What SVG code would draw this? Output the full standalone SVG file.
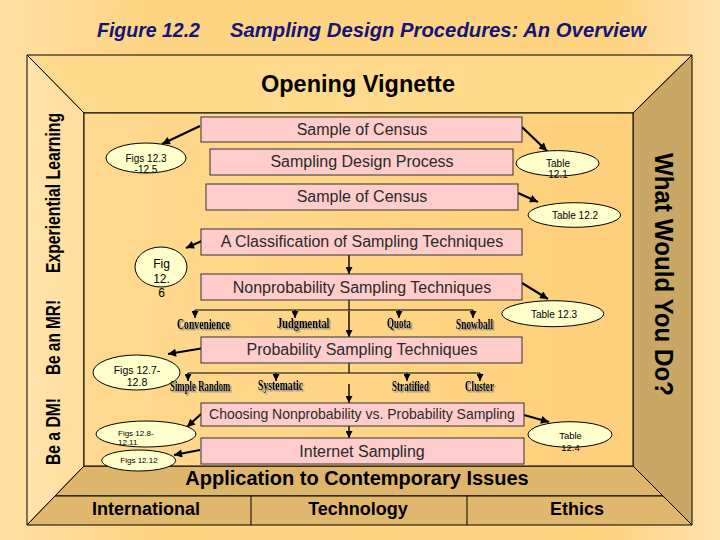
<svg xmlns="http://www.w3.org/2000/svg" width="720" height="540" viewBox="0 0 720 540">
<defs>
<linearGradient id="bg" x1="0" y1="0" x2="1" y2="0">
<stop offset="0" stop-color="#FFE0A4"/><stop offset="0.2" stop-color="#FDD482"/><stop offset="0.85" stop-color="#FDD380"/><stop offset="1" stop-color="#FFE2AE"/>
</linearGradient>
<linearGradient id="lp" x1="0" y1="0" x2="1" y2="0">
<stop offset="0" stop-color="#FFE4AC"/><stop offset="1" stop-color="#FFDD9C"/>
</linearGradient>
<linearGradient id="inner" x1="0" y1="0" x2="1" y2="0">
<stop offset="0" stop-color="#FFD98F"/><stop offset="1" stop-color="#FFD07C"/>
</linearGradient>
<marker id="ah" viewBox="0 0 10 10" refX="10" refY="5" markerWidth="9" markerHeight="8" markerUnits="userSpaceOnUse" orient="auto">
<path d="M0,0 L10,5 L0,10 z" fill="#000"/>
</marker>
<marker id="as" viewBox="0 0 10 10" refX="10" refY="5" markerWidth="7" markerHeight="7" markerUnits="userSpaceOnUse" orient="auto">
<path d="M0,0 L10,5 L0,10 z" fill="#000"/>
</marker>
<filter id="sh" x="-10%" y="-30%" width="130%" height="170%">
<feDropShadow dx="1.5" dy="1.5" stdDeviation="0.4" flood-color="#7a7a7a" flood-opacity="0.9"/>
</filter>
</defs>
<style>
.fr{stroke:#000;stroke-width:1;}
.box{fill:#FFCCCC;stroke:#333;stroke-width:1;}
.bt{font-family:"Liberation Sans",Arial,sans-serif;fill:#2a2a2a;text-anchor:middle;}
.el{fill:#FFFFCC;stroke:#000;stroke-width:1;}
.et{font-family:"Liberation Sans",Arial,sans-serif;fill:#000;text-anchor:middle;}
.lab{font-family:"Liberation Serif","Times New Roman",serif;font-weight:bold;font-size:14px;fill:#000;}
.ln{stroke:#000;stroke-width:1.2;fill:none;}
.ta{stroke:#000;stroke-width:1.4;fill:none;marker-end:url(#as);}
.ar{stroke:#000;stroke-width:2.2;fill:none;marker-end:url(#ah);}
.side{font-family:"Liberation Sans",Arial,sans-serif;font-weight:bold;fill:#000;}
.title{font-family:"Liberation Sans",Arial,sans-serif;font-weight:bold;font-style:italic;font-size:19.5px;fill:#14147A;}
</style>
<rect x="0" y="0" width="720" height="540" fill="url(#bg)"/>
<g id="title">
<text class="title" x="97" y="37">Figure 12.2</text>
<text class="title" x="230" y="37" textLength="416" lengthAdjust="spacingAndGlyphs">Sampling Design Procedures:  An Overview</text>
</g>
<g id="frame">
<polygon class="fr" points="27,55 692,55 633,113 84,113" fill="#FFD98C"/>
<polygon class="fr" points="27,55 84,113 84,466 27,525" fill="url(#lp)"/>
<polygon class="fr" points="692,55 633,113 633,466 692,525" fill="#C9A765"/>
<polygon class="fr" points="84,466 633,466 663,496 55,496" fill="#DDB66C"/>
<polygon class="fr" points="55,496 663,496 692,525 27,525" fill="#E0B86D"/>
<rect class="fr" x="84" y="113" width="549" height="353" fill="url(#inner)"/>
<line class="fr" x1="251" y1="496" x2="251" y2="525"/>
<line class="fr" x1="467" y1="496" x2="467" y2="525"/>
</g>
<g id="frame-labels">
<text class="side" x="358" y="92" font-size="23.5" text-anchor="middle" textLength="194" lengthAdjust="spacingAndGlyphs">Opening Vignette</text>
<text class="side" font-size="20" transform="translate(60,273) rotate(-90)" textLength="160" lengthAdjust="spacingAndGlyphs">Experiential  Learning</text>
<text class="side" font-size="20" transform="translate(60,375) rotate(-90)" textLength="75" lengthAdjust="spacingAndGlyphs">Be an MR!</text>
<text class="side" font-size="20" transform="translate(60,465) rotate(-90)" textLength="67" lengthAdjust="spacingAndGlyphs">Be a DM!</text>
<text class="side" font-size="25" transform="translate(655,153) rotate(90)" textLength="243" lengthAdjust="spacingAndGlyphs">What Would You Do?</text>
<text class="side" x="357" y="485" font-size="20" text-anchor="middle">Application to Contemporary Issues</text>
<text class="side" x="146" y="515" font-size="18" text-anchor="middle">International</text>
<text class="side" x="358" y="515" font-size="18" text-anchor="middle">Technology</text>
<text class="side" x="577" y="515" font-size="18" text-anchor="middle">Ethics</text>
</g>
<g id="connectors">
<line class="ta" x1="349" y1="255" x2="349" y2="274"/>
<polyline class="ln" points="349,300 349,310"/>
<line class="ln" x1="195" y1="310" x2="473" y2="310"/>
<line class="ta" x1="195" y1="310" x2="195" y2="318"/>
<line class="ta" x1="295" y1="310" x2="295" y2="318"/>
<line class="ta" x1="399" y1="310" x2="399" y2="318"/>
<line class="ta" x1="473" y1="310" x2="473" y2="318"/>
<line class="ta" x1="349" y1="311" x2="349" y2="337"/>
<polyline class="ln" points="349,363 349,373"/>
<line class="ln" x1="188" y1="373" x2="480" y2="373"/>
<line class="ta" x1="188" y1="373" x2="188" y2="381"/>
<line class="ta" x1="276" y1="373" x2="276" y2="381"/>
<line class="ta" x1="407" y1="373" x2="407" y2="381"/>
<line class="ta" x1="480" y1="373" x2="480" y2="381"/>
<line class="ta" x1="349" y1="384" x2="349" y2="403"/>
<line class="ta" x1="349" y1="426" x2="349" y2="438"/>
<line class="ar" x1="200" y1="126" x2="162" y2="144"/>
<line class="ar" x1="204" y1="240" x2="186" y2="248"/>
<line class="ar" x1="204" y1="348" x2="168" y2="354"/>
<line class="ar" x1="201" y1="414" x2="187" y2="427"/>
<line class="ar" x1="200" y1="450" x2="174" y2="455"/>
<line class="ar" x1="522" y1="127" x2="547" y2="151"/>
<line class="ar" x1="518" y1="193" x2="538" y2="202"/>
<line class="ar" x1="522" y1="283" x2="548" y2="299"/>
<line class="ar" x1="524" y1="415" x2="549" y2="422"/>
</g>
<g id="box-sample1"><rect class="box" x="201" y="117" width="321" height="25"/><text class="bt" x="362" y="135" style="font-size:16px">Sample of Census</text></g>
<g id="box-design"><rect class="box" x="210" y="149" width="303" height="26"/><text class="bt" x="362" y="167" style="font-size:16px">Sampling Design Process</text></g>
<g id="box-sample2"><rect class="box" x="206" y="184" width="312" height="26"/><text class="bt" x="362" y="202" style="font-size:16px">Sample of Census</text></g>
<g id="box-class"><rect class="box" x="201" y="229" width="321" height="26"/><text class="bt" x="362" y="247" style="font-size:16px">A Classification of Sampling Techniques</text></g>
<g id="box-nonprob"><rect class="box" x="201" y="274" width="321" height="26"/><text class="bt" x="362" y="293" style="font-size:16px">Nonprobability Sampling Techniques</text></g>
<g id="box-prob"><rect class="box" x="201" y="337" width="321" height="26"/><text class="bt" x="362" y="355" style="font-size:16px">Probability Sampling Techniques</text></g>
<g id="box-choosing"><rect class="box" x="201" y="403" width="323" height="23"/><text class="bt" x="362" y="419.3" style="font-size:14px">Choosing Nonprobability vs. Probability Sampling</text></g>
<g id="box-internet"><rect class="box" x="201" y="438" width="323" height="26"/><text class="bt" x="362" y="457" style="font-size:16px">Internet Sampling</text></g>
<g id="ell-figs123"><ellipse class="el" cx="146" cy="158" rx="40" ry="15"/><text class="et" x="146" y="161.5" style="font-size:10px">Figs 12.3</text><text class="et" x="146" y="172.5" style="font-size:10px">-12.5</text></g>
<g id="ell-fig126"><ellipse class="el" cx="161" cy="267" rx="26" ry="20"/><text class="et" x="161.5" y="267.5" style="font-size:12px">Fig</text><text class="et" x="161.5" y="282.5" style="font-size:12px">12.</text><text class="et" x="161.5" y="296.5" style="font-size:12px">6</text></g>
<g id="ell-figs127"><ellipse class="el" cx="136.5" cy="372.5" rx="43.5" ry="17.5"/><text class="et" x="137" y="374" style="font-size:10.5px">Figs 12.7-</text><text class="et" x="137" y="385.5" style="font-size:10.5px">12.8</text></g>
<g id="ell-figs128"><ellipse class="el" cx="146" cy="434" rx="50" ry="13"/><text class="et" x="118" y="435.5" style="font-size:8px;text-anchor:start">Figs 12.8-</text><text class="et" x="118" y="445" style="font-size:8px;text-anchor:start">12.11</text></g>
<g id="ell-figs1212"><ellipse class="el" cx="138.7" cy="460.5" rx="37" ry="10.5"/><text class="et" x="139" y="463.3" style="font-size:8px">Figs 12.12</text></g>
<g id="ell-t121"><ellipse class="el" cx="557.5" cy="163.3" rx="41.5" ry="12.7"/><text class="et" x="558" y="166.5" style="font-size:10px">Table</text><text class="et" x="558" y="178.3" style="font-size:10px">12.1</text></g>
<g id="ell-t122"><ellipse class="el" cx="574.3" cy="215" rx="46.3" ry="12.3"/><text class="et" x="575" y="218.5" style="font-size:10px">Table 12.2</text></g>
<g id="ell-t123"><ellipse class="el" cx="552.8" cy="313.7" rx="51" ry="13"/><text class="et" x="554" y="317.5" style="font-size:10px">Table 12.3</text></g>
<g id="ell-t124"><ellipse class="el" cx="570" cy="434.5" rx="42" ry="12.8"/><text class="et" x="570.5" y="438.7" style="font-size:9.5px">Table</text><text class="et" x="570.5" y="450.7" style="font-size:9.5px">12.4</text></g>
<g id="labels" filter="url(#sh)">
<text class="lab" transform="translate(177,328.5) scale(0.695,1)">Convenience</text>
<text class="lab" transform="translate(277,327.5) scale(0.742,1)">Judgmental</text>
<text class="lab" transform="translate(387,327.5) scale(0.643,1)">Quota</text>
<text class="lab" transform="translate(456,328.5) scale(0.67,1)">Snowball</text>
<text class="lab" transform="translate(170,390.5) scale(0.63,1)">Simple Random</text>
<text class="lab" transform="translate(258,389.5) scale(0.698,1)">Systematic</text>
<text class="lab" transform="translate(392,390.5) scale(0.652,1)">Stratified</text>
<text class="lab" transform="translate(465,390.5) scale(0.654,1)">Cluster</text>
</g>
</svg>
